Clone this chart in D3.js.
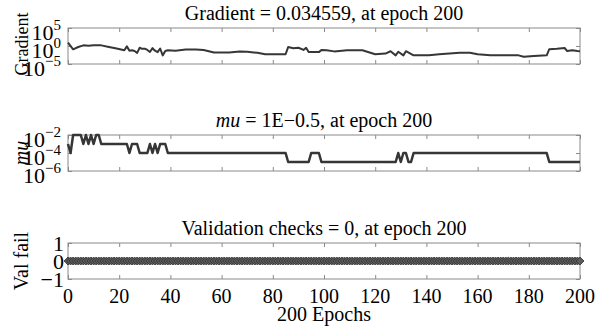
<!DOCTYPE html>
<html>
<head>
<meta charset="utf-8">
<script src="https://cdn.jsdelivr.net/npm/d3@7"></script>
<style>
  html, body { margin: 0; padding: 0; background: #fff; }
  svg { display: block; font-family: "Liberation Serif", "Times New Roman", serif; }
</style>
</head>
<body>
<svg id="chart" width="597" height="331"></svg>
<script>
// Training record: gradient, mu and validation failures over 200 epochs
const epochTicks = [0, 20, 40, 60, 80, 100, 120, 140, 160, 180, 200];

// [epoch, gradient]
const gradPoints = [
  [0, 8.3], [2, 0.12], [4, 0.52], [6, 1.5], [8, 1.26], [10, 1.5], [13, 1.5],
  [16, 0.52], [19, 0.19], [22, 0.063], [23, 0.79], [24, 0.05], [25, 0.063],
  [26, 0.04], [27, 0.0126], [28, 0.32], [29, 0.16], [30, 0.18], [31, 0.08],
  [32, 0.022], [33, 0.25], [34, 0.05], [35, 0.02], [36, 0.2], [37, 0.0025],
  [38, 0.04], [39, 0.063], [42, 0.05], [46, 0.1], [50, 0.1], [53, 0.08],
  [57, 0.016], [63, 0.016], [67, 0.032], [70, 0.025], [74, 0.0126], [77, 0.005],
  [85, 0.005], [86, 0.5], [88, 0.25], [90, 0.32], [92, 0.08], [93, 0.32],
  [94, 0.022], [98, 0.02], [99, 0.08], [101, 0.063], [104, 0.032], [109, 0.063],
  [115, 0.063], [120, 0.005], [124, 0.008], [126, 0.035], [128, 0.0025],
  [129, 0.025], [131, 0.0025], [132, 0.035], [135, 0.0025], [141, 0.0025],
  [145, 0.005], [149, 0.008], [153, 0.0126], [157, 0.0126], [160, 0.005],
  [165, 0.0025], [176, 0.0025], [178, 0.001], [182, 0.0016], [187, 0.0025],
  [188, 0.126], [191, 0.16], [194, 0.28], [195, 0.04], [197, 0.063],
  [199, 0.04], [200, 0.034559]
];
const gradTicks = [1e-5, 1e0, 1e5];

// [epoch, mu] at every epoch where mu changes level
const muPoints = [
  [0, 1e-3], [1, 1e-4], [2, 1e-2], [5, 1e-2], [6, 1e-3], [7, 1e-2], [8, 1e-3],
  [9, 1e-2], [10, 1e-3], [11, 1e-2], [12, 1e-2], [13, 1e-3], [23, 1e-3],
  [24, 1e-4], [25, 1e-3], [27, 1e-3], [28, 1e-4], [31, 1e-4], [32, 1e-3],
  [33, 1e-4], [34, 1e-3], [35, 1e-4], [36, 1e-3], [38, 1e-3], [39, 1e-4],
  [85, 1e-4], [86, 1e-5], [94, 1e-5], [95, 1e-4], [98, 1e-4], [99, 1e-5],
  [128, 1e-5], [129, 1e-4], [130, 1e-5], [131, 1e-4], [132, 1e-4], [133, 1e-5],
  [134, 1e-5], [135, 1e-4], [187, 1e-4], [188, 1e-5], [200, 1e-5]
];
const muTicks = [1e-6, 1e-4, 1e-2];

// validation failures, one per epoch 0..200
const valEpochs = d3.range(0, 201);
const valFail = [
  0,0,0,0,0,0,0,0,0,0,0,0,0,0,0,0,0,0,0,0,
  0,0,0,0,0,0,0,0,0,0,0,0,0,0,0,0,0,0,0,0,
  0,0,0,0,0,0,0,0,0,0,0,0,0,0,0,0,0,0,0,0,
  0,0,0,0,0,0,0,0,0,0,0,0,0,0,0,0,0,0,0,0,
  0,0,0,0,0,0,0,0,0,0,0,0,0,0,0,0,0,0,0,0,
  0,0,0,0,0,0,0,0,0,0,0,0,0,0,0,0,0,0,0,0,
  0,0,0,0,0,0,0,0,0,0,0,0,0,0,0,0,0,0,0,0,
  0,0,0,0,0,0,0,0,0,0,0,0,0,0,0,0,0,0,0,0,
  0,0,0,0,0,0,0,0,0,0,0,0,0,0,0,0,0,0,0,0,
  0,0,0,0,0,0,0,0,0,0,0,0,0,0,0,0,0,0,0,0,
  0
];
const valTicks = [-1, 0, 1];

const svg = d3.select("#chart");
const FS = 20;
const axisGray = "#8a8a8a";
const lineColor = "#363636";

const x = d3.scaleLinear().domain([0, 200]).range([68, 580]);

const panels = [
  { top: 28, bottom: 64 },
  { top: 135, bottom: 171 },
  { top: 243, bottom: 279 }
];

const yGrad = d3.scaleLog().domain([1e-5, 1e5]).range([panels[0].bottom, panels[0].top]);
const yMu = d3.scaleLog().domain([1e-6, 1e-2]).range([panels[1].bottom, panels[1].top]);
const yVal = d3.scaleLinear().domain([-1, 1]).range([panels[2].bottom, panels[2].top]);

function drawFrame(p, yScale, ticks) {
  const g = svg.append("g");
  const tl = 4;
  // x ticks top and bottom, pointing inwards
  g.append("g").attr("transform", `translate(0,${p.bottom})`)
    .call(d3.axisBottom(x).tickValues(epochTicks).tickSize(-tl).tickFormat(""))
    .call(a => a.select(".domain").remove());
  g.append("g").attr("transform", `translate(0,${p.top})`)
    .call(d3.axisTop(x).tickValues(epochTicks).tickSize(-tl).tickFormat(""))
    .call(a => a.select(".domain").remove());
  // y ticks left and right
  g.append("g").attr("transform", `translate(${x.range()[0]},0)`)
    .call(d3.axisLeft(yScale).tickValues(ticks).tickSize(-tl).tickFormat(""))
    .call(a => a.select(".domain").remove());
  g.append("g").attr("transform", `translate(${x.range()[1]},0)`)
    .call(d3.axisRight(yScale).tickValues(ticks).tickSize(-tl).tickFormat(""))
    .call(a => a.select(".domain").remove());
  g.selectAll(".tick line").attr("stroke", axisGray).attr("stroke-width", 1);
  g.append("rect")
    .attr("x", x.range()[0]).attr("y", p.top)
    .attr("width", x.range()[1] - x.range()[0]).attr("height", p.bottom - p.top)
    .attr("fill", "none").attr("stroke", axisGray).attr("stroke-width", 1);
}

function logTickLabels(yScale, ticks) {
  const g = svg.append("g").attr("font-size", 22).attr("fill", "#000");
  ticks.forEach(t => {
    const e = Math.round(Math.log10(t));
    const txt = g.append("text")
      .attr("x", 61).attr("y", yScale(t) + 12)
      .attr("text-anchor", "end");
    txt.append("tspan").text("10");
    txt.append("tspan").attr("dy", -10).attr("font-size", 15)
      .text(e < 0 ? "\u2212" + Math.abs(e) : String(e));
  });
}

function title(p, parts) {
  const t = svg.append("text")
    .attr("x", (x.range()[0] + x.range()[1]) / 2)
    .attr("y", p.top - 8)
    .attr("text-anchor", "middle")
    .attr("font-size", FS).attr("fill", "#000");
  parts.forEach(([s, italic]) => {
    t.append("tspan").attr("font-style", italic ? "italic" : "normal").text(s);
  });
}

function yLabel(p, text, italic, size, shift) {
  svg.append("text")
    .attr("transform", `translate(28,${(p.top + p.bottom) / 2 + shift}) rotate(-90)`)
    .attr("text-anchor", "middle")
    .attr("font-size", size)
    .attr("font-style", italic ? "italic" : "normal")
    .attr("fill", "#000")
    .text(text);
}

// Panel 1: gradient
drawFrame(panels[0], yGrad, gradTicks);
logTickLabels(yGrad, gradTicks);
title(panels[0], [["Gradient = 0.034559, at epoch 200", false]]);
yLabel(panels[0], "Gradient", false, 18, -2);
svg.append("path")
  .datum(gradPoints)
  .attr("fill", "none").attr("stroke", lineColor).attr("stroke-width", 2)
  .attr("stroke-linejoin", "round")
  .attr("d", d3.line().x(d => x(d[0])).y(d => yGrad(d[1])));

// Panel 2: mu
drawFrame(panels[1], yMu, muTicks);
logTickLabels(yMu, muTicks);
title(panels[1], [["mu", true], [" = 1E\u22120.5, at epoch 200", false]]);
yLabel(panels[1], "mu", true, FS, 0);
svg.append("path")
  .datum(muPoints)
  .attr("fill", "none").attr("stroke", lineColor).attr("stroke-width", 2.5)
  .attr("stroke-linejoin", "round")
  .attr("d", d3.line().x(d => x(d[0])).y(d => yMu(d[1])));

// Panel 3: validation checks
drawFrame(panels[2], yVal, valTicks);
title(panels[2], [["Validation checks = 0, at epoch 200", false]]);
yLabel(panels[2], "Val fail", false, FS, 0);
const valG = svg.append("g").attr("font-size", 22).attr("fill", "#000");
valTicks.forEach(t => {
  valG.append("text")
    .attr("x", 64).attr("y", yVal(t) + 8)
    .attr("text-anchor", "end")
    .text(t < 0 ? "\u2212" + Math.abs(t) : String(t));
});
const valData = valEpochs.map((e, i) => [e, valFail[i]]);
svg.append("path")
  .datum(valData)
  .attr("fill", "none").attr("stroke", lineColor).attr("stroke-width", 1.5)
  .attr("d", d3.line().x(d => x(d[0])).y(d => yVal(d[1])));
const diamond = "M0,-4L4,0L0,4L-4,0Z";
svg.append("g").selectAll("path")
  .data(valData)
  .join("path")
  .attr("transform", d => `translate(${x(d[0])},${yVal(d[1])})`)
  .attr("d", diamond)
  .attr("fill", "#5c5c5c")
  .attr("stroke", "#2e2e2e")
  .attr("stroke-width", 0.8);

// Epoch tick labels and axis title
const xl = svg.append("g").attr("font-size", FS).attr("fill", "#000");
epochTicks.forEach(t => {
  xl.append("text")
    .attr("x", x(t)).attr("y", panels[2].bottom + 24)
    .attr("text-anchor", "middle")
    .text(String(t));
});
svg.append("text")
  .attr("x", (x.range()[0] + x.range()[1]) / 2)
  .attr("y", panels[2].bottom + 42)
  .attr("text-anchor", "middle")
  .attr("font-size", FS).attr("fill", "#000")
  .text("200 Epochs");
</script>
</body>
</html>
